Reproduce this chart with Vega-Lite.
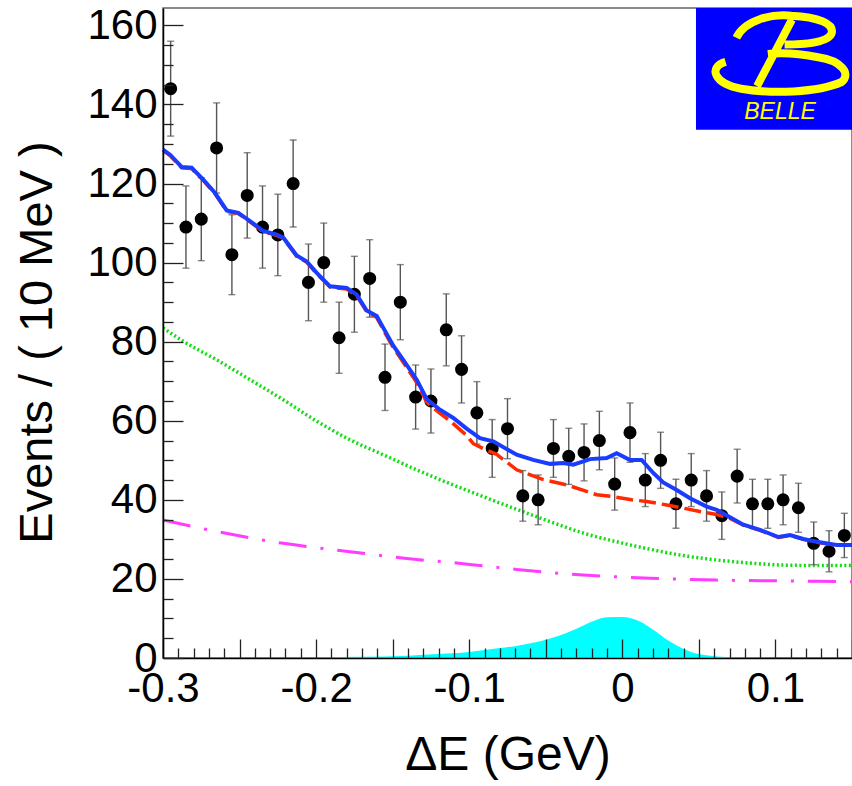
{
  "$schema": "https://vega.github.io/schema/vega-lite/v6.json",
  "width": 689,
  "height": 650,
  "autosize": "none",
  "padding": {"left": 163, "top": 8, "right": 0, "bottom": 128},
  "background": "white",
  "config": {
    "font": "Liberation Sans",
    "view": {"stroke": "#666666", "strokeWidth": 1.5}
  },
  "datasets": {
    "pts": [
      {"dE": -0.295, "n": 144, "lo": 132.0, "hi": 156.0},
      {"dE": -0.285, "n": 109, "lo": 98.6, "hi": 119.4},
      {"dE": -0.275, "n": 111, "lo": 100.5, "hi": 121.5},
      {"dE": -0.265, "n": 129, "lo": 117.6, "hi": 140.4},
      {"dE": -0.255, "n": 102, "lo": 91.9, "hi": 112.1},
      {"dE": -0.245, "n": 117, "lo": 106.2, "hi": 127.8},
      {"dE": -0.235, "n": 109, "lo": 98.6, "hi": 119.4},
      {"dE": -0.225, "n": 107, "lo": 96.7, "hi": 117.3},
      {"dE": -0.215, "n": 120, "lo": 109.0, "hi": 131.0},
      {"dE": -0.205, "n": 95, "lo": 85.3, "hi": 104.7},
      {"dE": -0.195, "n": 100, "lo": 90.0, "hi": 110.0},
      {"dE": -0.185, "n": 81, "lo": 72.0, "hi": 90.0},
      {"dE": -0.175, "n": 92, "lo": 82.4, "hi": 101.6},
      {"dE": -0.165, "n": 96, "lo": 86.2, "hi": 105.8},
      {"dE": -0.155, "n": 71, "lo": 62.6, "hi": 79.4},
      {"dE": -0.145, "n": 90, "lo": 80.5, "hi": 99.5},
      {"dE": -0.135, "n": 66, "lo": 57.9, "hi": 74.1},
      {"dE": -0.125, "n": 65, "lo": 56.9, "hi": 73.1},
      {"dE": -0.115, "n": 83, "lo": 73.9, "hi": 92.1},
      {"dE": -0.105, "n": 73, "lo": 64.5, "hi": 81.5},
      {"dE": -0.095, "n": 62, "lo": 54.1, "hi": 69.9},
      {"dE": -0.085, "n": 53, "lo": 45.7, "hi": 60.3},
      {"dE": -0.075, "n": 58, "lo": 50.4, "hi": 65.6},
      {"dE": -0.065, "n": 41, "lo": 34.6, "hi": 47.4},
      {"dE": -0.055, "n": 40, "lo": 33.7, "hi": 46.3},
      {"dE": -0.045, "n": 53, "lo": 45.7, "hi": 60.3},
      {"dE": -0.035, "n": 51, "lo": 43.9, "hi": 58.1},
      {"dE": -0.025, "n": 52, "lo": 44.8, "hi": 59.2},
      {"dE": -0.015, "n": 55, "lo": 47.6, "hi": 62.4},
      {"dE": -0.005, "n": 44, "lo": 37.4, "hi": 50.6},
      {"dE": 0.005, "n": 57, "lo": 49.5, "hi": 64.5},
      {"dE": 0.015, "n": 45, "lo": 38.3, "hi": 51.7},
      {"dE": 0.025, "n": 50, "lo": 42.9, "hi": 57.1},
      {"dE": 0.035, "n": 39, "lo": 32.8, "hi": 45.2},
      {"dE": 0.045, "n": 45, "lo": 38.3, "hi": 51.7},
      {"dE": 0.055, "n": 41, "lo": 34.6, "hi": 47.4},
      {"dE": 0.065, "n": 36, "lo": 30.0, "hi": 42.0},
      {"dE": 0.075, "n": 46, "lo": 39.2, "hi": 52.8},
      {"dE": 0.085, "n": 39, "lo": 32.8, "hi": 45.2},
      {"dE": 0.095, "n": 39, "lo": 32.8, "hi": 45.2},
      {"dE": 0.105, "n": 40, "lo": 33.7, "hi": 46.3},
      {"dE": 0.115, "n": 38, "lo": 31.8, "hi": 44.2},
      {"dE": 0.125, "n": 29, "lo": 23.6, "hi": 34.4},
      {"dE": 0.135, "n": 27, "lo": 21.8, "hi": 32.2},
      {"dE": 0.145, "n": 31, "lo": 25.4, "hi": 36.6}
    ],
    "sig": [
      {"dE": -0.30, "n": 0.0}, {"dE": -0.25, "n": 0.05}, {"dE": -0.20, "n": 0.15},
      {"dE": -0.17, "n": 0.3}, {"dE": -0.14, "n": 0.6}, {"dE": -0.12, "n": 1.0},
      {"dE": -0.10, "n": 1.5}, {"dE": -0.09, "n": 2.0}, {"dE": -0.08, "n": 2.5},
      {"dE": -0.07, "n": 3.0}, {"dE": -0.06, "n": 3.7}, {"dE": -0.05, "n": 4.6},
      {"dE": -0.04, "n": 5.8}, {"dE": -0.03, "n": 7.4}, {"dE": -0.02, "n": 9.2},
      {"dE": -0.01, "n": 10.3}, {"dE": 0.0, "n": 10.4}, {"dE": 0.01, "n": 9.5},
      {"dE": 0.02, "n": 7.2}, {"dE": 0.03, "n": 4.4}, {"dE": 0.04, "n": 2.3},
      {"dE": 0.05, "n": 1.0}, {"dE": 0.06, "n": 0.45}, {"dE": 0.07, "n": 0.2},
      {"dE": 0.08, "n": 0.1}, {"dE": 0.10, "n": 0.03}, {"dE": 0.15, "n": 0.0}
    ],
    "comb": [
      {"dE": -0.300, "n": 83.5}, {"dE": -0.2867, "n": 80.1}, {"dE": -0.2649, "n": 75.4},
      {"dE": -0.2432, "n": 70.4}, {"dE": -0.2214, "n": 65.3}, {"dE": -0.1996, "n": 59.9},
      {"dE": -0.1779, "n": 55.2}, {"dE": -0.1561, "n": 51.4}, {"dE": -0.1343, "n": 47.6},
      {"dE": -0.1126, "n": 44.1}, {"dE": -0.0908, "n": 40.8}, {"dE": -0.0690, "n": 37.6},
      {"dE": -0.0472, "n": 34.5}, {"dE": -0.0255, "n": 31.6}, {"dE": -0.0037, "n": 29.4},
      {"dE": 0.0181, "n": 27.5}, {"dE": 0.0398, "n": 25.9}, {"dE": 0.0616, "n": 24.8},
      {"dE": 0.0834, "n": 24.0}, {"dE": 0.1051, "n": 23.5}, {"dE": 0.1269, "n": 23.4},
      {"dE": 0.150, "n": 23.4}
    ],
    "cont": [
      {"dE": -0.300, "n": 34.9}, {"dE": -0.2649, "n": 32.0}, {"dE": -0.2214, "n": 29.0},
      {"dE": -0.1779, "n": 26.9}, {"dE": -0.1343, "n": 24.9}, {"dE": -0.1126, "n": 24.2},
      {"dE": -0.0908, "n": 23.3}, {"dE": -0.0690, "n": 22.4}, {"dE": -0.0255, "n": 21.0},
      {"dE": 0.0181, "n": 20.2}, {"dE": 0.0616, "n": 19.7}, {"dE": 0.1051, "n": 19.5},
      {"dE": 0.150, "n": 19.3}
    ],
    "bkg": [
      {"dE": -0.300, "n": 128.4}, {"dE": -0.2954, "n": 127.1}, {"dE": -0.2878, "n": 124.0},
      {"dE": -0.2813, "n": 123.8}, {"dE": -0.2737, "n": 120.8}, {"dE": -0.2660, "n": 117.4},
      {"dE": -0.2584, "n": 113.0}, {"dE": -0.2508, "n": 112.4}, {"dE": -0.2432, "n": 110.3},
      {"dE": -0.2345, "n": 107.8}, {"dE": -0.2257, "n": 106.9}, {"dE": -0.2214, "n": 106.1},
      {"dE": -0.2127, "n": 101.6}, {"dE": -0.2061, "n": 100.1}, {"dE": -0.1996, "n": 97.2},
      {"dE": -0.1909, "n": 93.8}, {"dE": -0.1800, "n": 93.3}, {"dE": -0.1735, "n": 91.6},
      {"dE": -0.1670, "n": 87.6}, {"dE": -0.1604, "n": 86.1}, {"dE": -0.1561, "n": 83.0},
      {"dE": -0.1496, "n": 78.5}, {"dE": -0.1431, "n": 74.8}, {"dE": -0.1343, "n": 69.7},
      {"dE": -0.1278, "n": 64.7}, {"dE": -0.1191, "n": 61.9}, {"dE": -0.1126, "n": 60.0},
      {"dE": -0.1017, "n": 56.3}, {"dE": -0.0973, "n": 54.2}, {"dE": -0.0900, "n": 52.8},
      {"dE": -0.0821, "n": 51.5}, {"dE": -0.0690, "n": 47.6}, {"dE": -0.0516, "n": 45.1},
      {"dE": -0.0363, "n": 43.8}, {"dE": -0.0168, "n": 41.3}, {"dE": -0.0059, "n": 40.8},
      {"dE": 0.0061, "n": 40.0}, {"dE": 0.0159, "n": 39.6}, {"dE": 0.0290, "n": 38.7},
      {"dE": 0.0398, "n": 37.9}, {"dE": 0.0529, "n": 36.9}, {"dE": 0.0616, "n": 36.3},
      {"dE": 0.0703, "n": 35.3}, {"dE": 0.0790, "n": 33.6}, {"dE": 0.0899, "n": 32.3},
      {"dE": 0.1019, "n": 30.5}, {"dE": 0.1095, "n": 31.0}, {"dE": 0.1182, "n": 30.0},
      {"dE": 0.1269, "n": 29.3}, {"dE": 0.1400, "n": 28.5}, {"dE": 0.1500, "n": 28.5}
    ],
    "fit": [
      {"dE": -0.300, "n": 128.6}, {"dE": -0.2954, "n": 127.3}, {"dE": -0.2878, "n": 124.2},
      {"dE": -0.2813, "n": 124.0}, {"dE": -0.2737, "n": 121.0}, {"dE": -0.2660, "n": 117.6},
      {"dE": -0.2584, "n": 113.2}, {"dE": -0.2508, "n": 112.6}, {"dE": -0.2432, "n": 110.5},
      {"dE": -0.2345, "n": 108.0}, {"dE": -0.2257, "n": 107.1}, {"dE": -0.2214, "n": 106.3},
      {"dE": -0.2127, "n": 101.8}, {"dE": -0.2061, "n": 100.3}, {"dE": -0.1996, "n": 97.4},
      {"dE": -0.1909, "n": 94.0}, {"dE": -0.1800, "n": 93.6}, {"dE": -0.1735, "n": 91.9},
      {"dE": -0.1670, "n": 87.9}, {"dE": -0.1604, "n": 86.5}, {"dE": -0.1561, "n": 83.5},
      {"dE": -0.1496, "n": 79.0}, {"dE": -0.1431, "n": 75.4}, {"dE": -0.1343, "n": 70.4},
      {"dE": -0.1278, "n": 65.5}, {"dE": -0.1191, "n": 62.8}, {"dE": -0.1104, "n": 60.7},
      {"dE": -0.1017, "n": 58.0}, {"dE": -0.0930, "n": 55.6}, {"dE": -0.0843, "n": 54.8},
      {"dE": -0.0690, "n": 51.4}, {"dE": -0.0582, "n": 50.1}, {"dE": -0.0472, "n": 49.1},
      {"dE": -0.0386, "n": 49.3}, {"dE": -0.0320, "n": 48.9}, {"dE": -0.0211, "n": 50.3},
      {"dE": -0.0102, "n": 50.6}, {"dE": -0.0037, "n": 51.8}, {"dE": 0.0050, "n": 50.1},
      {"dE": 0.0126, "n": 50.1}, {"dE": 0.0202, "n": 46.8}, {"dE": 0.0267, "n": 44.4},
      {"dE": 0.0355, "n": 42.5}, {"dE": 0.0442, "n": 40.4}, {"dE": 0.0551, "n": 38.3},
      {"dE": 0.0616, "n": 37.5}, {"dE": 0.0703, "n": 35.6}, {"dE": 0.0790, "n": 33.7},
      {"dE": 0.0899, "n": 32.4}, {"dE": 0.1019, "n": 30.6}, {"dE": 0.1095, "n": 31.1},
      {"dE": 0.1182, "n": 30.1}, {"dE": 0.1269, "n": 29.4}, {"dE": 0.1400, "n": 28.6},
      {"dE": 0.1500, "n": 28.6}
    ],
    "logo": [{"label": "BELLE"}]
  },
  "resolve": {"axis": {"x": "independent", "y": "independent"}},
  "layer": [
    {
      "data": {"name": "sig"},
      "mark": {"type": "area", "color": "#00ffff", "interpolate": "monotone"},
      "encoding": {
        "x": {"field": "dE", "type": "quantitative",
              "scale": {"domain": [-0.3, 0.15], "nice": false, "zero": false},
              "axis": {"orient": "bottom", "zindex": 2,
                       "values": [-0.3, -0.2, -0.1, 0, 0.1], "format": ".1~f",
                       "labelExpr": "replace(datum.label, '\u2212', '-')",
                       "labelFont": "Liberation Sans", "labelFontSize": 42, "labelColor": "black",
                       "labelPadding": 10, "labelFlush": false, "labelOverlap": false, "labelBound": false,
                       "ticks": false, "grid": false,
                       "domain": true, "domainColor": "black", "domainWidth": 1.5,
                       "title": "ΔE (GeV)", "titleFont": "Liberation Sans", "titleFontSize": 48,
                       "titleFontWeight": "normal", "titleColor": "black", "titlePadding": 22}},
        "y": {"field": "n", "type": "quantitative",
              "scale": {"domain": [0, 164.4], "nice": false, "zero": false},
              "axis": {"orient": "left", "zindex": 2,
                       "values": [0, 20, 40, 60, 80, 100, 120, 140, 160],
                       "labelFont": "Liberation Sans", "labelFontSize": 42, "labelColor": "black",
                       "labelPadding": 6, "labelOverlap": false, "labelBound": false, "labelFlush": false,
                       "ticks": false, "grid": false,
                       "domain": true, "domainColor": "black", "domainWidth": 1.5,
                       "title": "Events / ( 10 MeV )", "titleFont": "Liberation Sans", "titleFontSize": 47,
                       "titleFontWeight": "normal", "titleColor": "black", "titlePadding": 25,
                       "titleY": 334}}
      }
    },
    {
      "data": {"name": "comb"},
      "mark": {"type": "line", "color": "#11dd11", "strokeWidth": 3.5, "strokeDash": [2, 2.5], "interpolate": "monotone"},
      "encoding": {
        "x": {"field": "dE", "type": "quantitative",
              "scale": {"domain": [-0.3, 0.15], "nice": false, "zero": false},
              "axis": {"orient": "bottom", "zindex": 2,
                       "values": [-0.3, -0.25, -0.2, -0.15, -0.1, -0.05, 0, 0.05, 0.1, 0.15],
                       "labels": false, "domain": false, "grid": false, "title": null,
                       "ticks": true, "tickSize": -19, "tickColor": "#222222", "tickWidth": 1.3}},
        "y": {"field": "n", "type": "quantitative",
              "scale": {"domain": [0, 164.4], "nice": false, "zero": false},
              "axis": {"orient": "left", "zindex": 2,
                       "values": [0, 20, 40, 60, 80, 100, 120, 140, 160],
                       "labels": false, "domain": false, "grid": false, "title": null,
                       "ticks": true, "tickSize": -20, "tickColor": "#222222", "tickWidth": 1.3}}
      }
    },
    {
      "data": {"name": "cont"},
      "mark": {"type": "line", "color": "#ff3cff", "strokeWidth": 3, "strokeDash": [28, 14, 3, 14], "interpolate": "monotone"},
      "encoding": {
        "x": {"field": "dE", "type": "quantitative",
              "scale": {"domain": [-0.3, 0.15], "nice": false, "zero": false},
              "axis": {"orient": "bottom", "zindex": 2,
                       "values": [-0.29, -0.28, -0.27, -0.26, -0.24, -0.23, -0.22, -0.21,
                                  -0.19, -0.18, -0.17, -0.16, -0.14, -0.13, -0.12, -0.11,
                                  -0.09, -0.08, -0.07, -0.06, -0.04, -0.03, -0.02, -0.01,
                                  0.01, 0.02, 0.03, 0.04, 0.06, 0.07, 0.08, 0.09,
                                  0.11, 0.12, 0.13, 0.14],
                       "labels": false, "domain": false, "grid": false, "title": null,
                       "ticks": true, "tickSize": -10, "tickColor": "#222222", "tickWidth": 1.3}},
        "y": {"field": "n", "type": "quantitative",
              "scale": {"domain": [0, 164.4], "nice": false, "zero": false},
              "axis": {"orient": "left", "zindex": 2,
                       "values": [5, 10, 15, 25, 30, 35, 45, 50, 55, 65, 70, 75, 85, 90, 95,
                                  105, 110, 115, 125, 130, 135, 145, 150, 155],
                       "labels": false, "domain": false, "grid": false, "title": null,
                       "ticks": true, "tickSize": -10, "tickColor": "#222222", "tickWidth": 1.3}}
      }
    },
    {
      "data": {"name": "pts"},
      "mark": {"type": "errorbar", "ticks": {"size": 7, "thickness": 1.4, "color": "#555555"},
               "rule": {"strokeWidth": 1.4, "color": "#555555"}},
      "encoding": {
        "x": {"field": "dE", "type": "quantitative", "axis": null,
              "scale": {"domain": [-0.3, 0.15], "nice": false, "zero": false}},
        "y": {"field": "lo", "type": "quantitative", "axis": null,
              "scale": {"domain": [0, 164.4], "nice": false, "zero": false}},
        "y2": {"field": "hi"}
      }
    },
    {
      "data": {"name": "pts"},
      "mark": {"type": "circle", "size": 170, "color": "black", "opacity": 1},
      "encoding": {
        "x": {"field": "dE", "type": "quantitative", "axis": null,
              "scale": {"domain": [-0.3, 0.15], "nice": false, "zero": false}},
        "y": {"field": "n", "type": "quantitative", "axis": null,
              "scale": {"domain": [0, 164.4], "nice": false, "zero": false}}
      }
    },
    {
      "data": {"name": "bkg"},
      "mark": {"type": "line", "color": "#ff2a00", "strokeWidth": 3.5, "strokeDash": [17, 6]},
      "encoding": {
        "x": {"field": "dE", "type": "quantitative", "axis": null,
              "scale": {"domain": [-0.3, 0.15], "nice": false, "zero": false}},
        "y": {"field": "n", "type": "quantitative", "axis": null,
              "scale": {"domain": [0, 164.4], "nice": false, "zero": false}}
      }
    },
    {
      "data": {"name": "fit"},
      "mark": {"type": "line", "color": "#1a3cff", "strokeWidth": 4},
      "encoding": {
        "x": {"field": "dE", "type": "quantitative", "axis": null,
              "scale": {"domain": [-0.3, 0.15], "nice": false, "zero": false}},
        "y": {"field": "n", "type": "quantitative", "axis": null,
              "scale": {"domain": [0, 164.4], "nice": false, "zero": false}}
      }
    },
    {
      "data": {"name": "logo"},
      "mark": {"type": "rect", "color": "#0000ff"},
      "encoding": {
        "x": {"datum": 0.0481, "type": "quantitative", "axis": null},
        "x2": {"datum": 0.15},
        "y": {"datum": 133.6, "type": "quantitative", "axis": null},
        "y2": {"datum": 164.4}
      }
    },
    {
      "data": {"name": "logo"},
      "mark": {"type": "point", "filled": false, "stroke": "#ffff00", "strokeWidth": 8, "opacity": 1,
               "size": 17956,
               "shape": "M -0.62 -0.24 C -0.5 -0.5 -0.1 -0.6 0.2 -0.57 C 0.6 -0.55 0.85 -0.45 0.8 -0.3 C 0.75 -0.17 0.4 -0.14 0.1 -0.14 M 0.21 -0.51 L -0.31 0.48 M -0.78 0.12 C -1.05 0.2 -0.95 0.45 -0.55 0.52 C -0.1 0.6 0.6 0.58 0.95 0.42 C 1.1 0.3 0.95 0.1 0.6 0.05 C 0.35 0 0.05 -0.02 -0.15 0"},
      "encoding": {
        "x": {"datum": 0.1016, "type": "quantitative", "axis": null},
        "y": {"datum": 152.8, "type": "quantitative", "axis": null}
      }
    },
    {
      "data": {"name": "logo"},
      "mark": {"type": "text", "color": "#ffff00", "font": "Liberation Sans", "fontSize": 23,
               "fontStyle": "italic", "align": "center", "baseline": "middle"},
      "encoding": {
        "x": {"datum": 0.103, "type": "quantitative", "axis": null},
        "y": {"datum": 138.1, "type": "quantitative", "axis": null},
        "text": {"field": "label"}
      }
    }
  ]
}
